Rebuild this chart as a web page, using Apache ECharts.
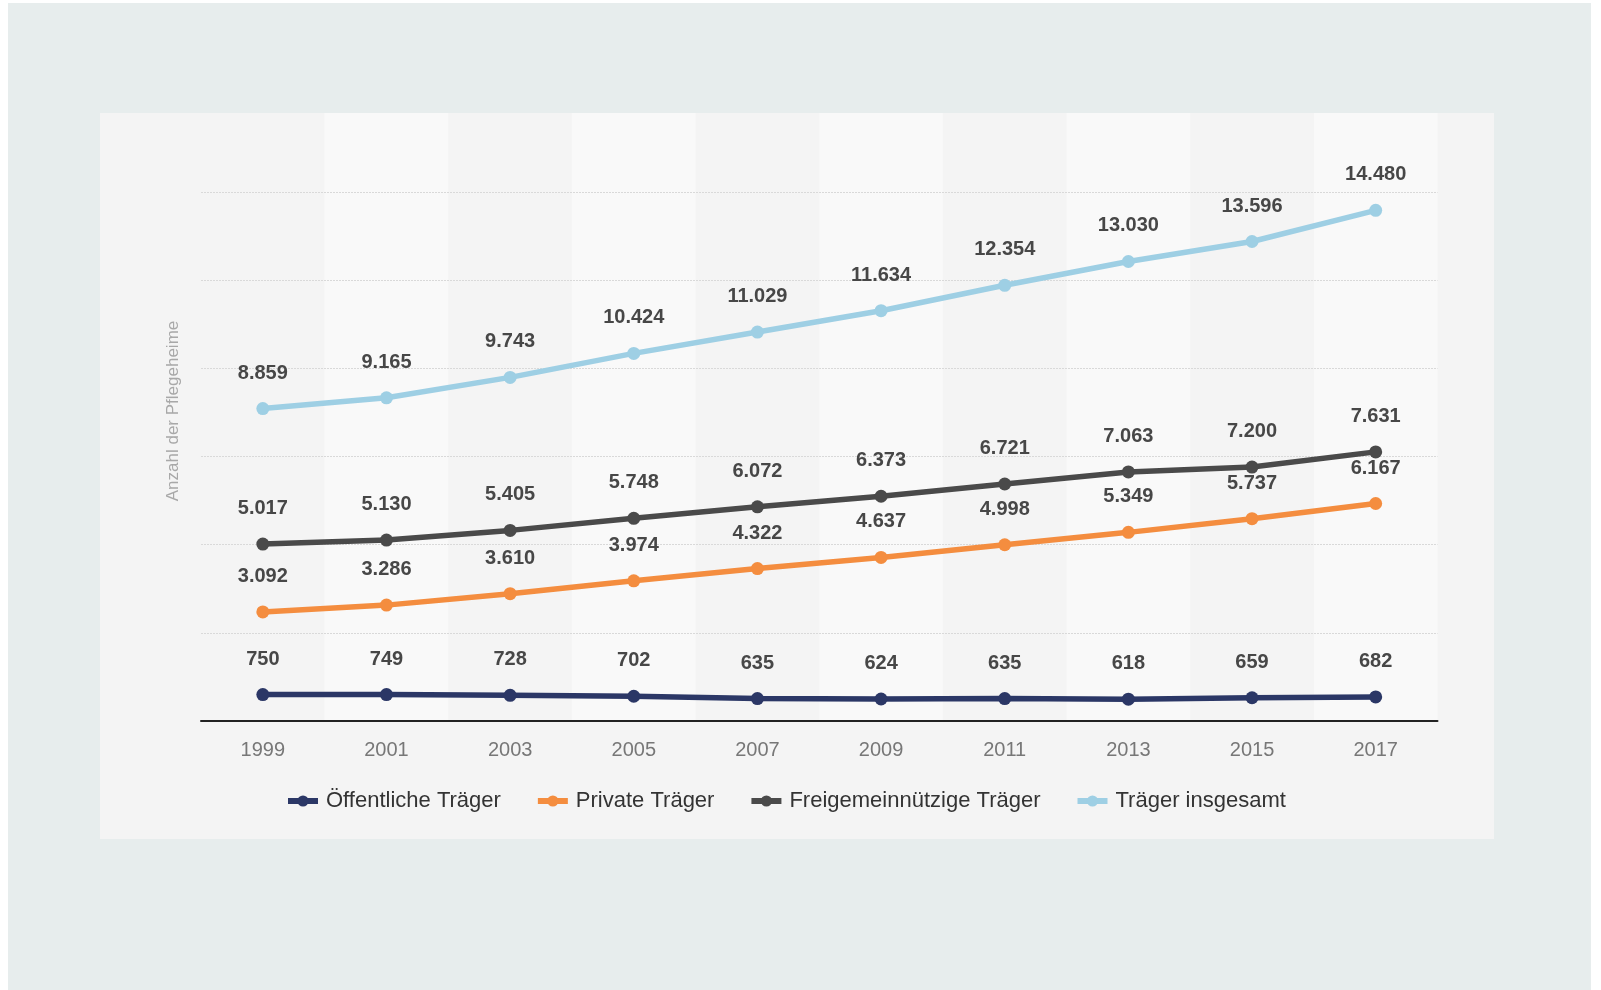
<!DOCTYPE html>
<html>
<head>
<meta charset="utf-8">
<script src="https://cdn.jsdelivr.net/npm/echarts@6/dist/echarts.min.js"></script>
<style>
  html, body { margin: 0; padding: 0; background: #ffffff; }
  #outer { position: absolute; left: 8px; top: 3px; width: 1583px; height: 987px; background: #e7eded; }
  #panel { position: absolute; left: 100px; top: 113px; width: 1394px; height: 726px; background: #f4f4f4; }
  #chart { position: absolute; left: 0; top: 0; width: 1601px; height: 990px; }
</style>
</head>
<body>
<div id="outer"></div>
<div id="panel"></div>
<div id="chart"></div>
<script>
const years = ['1999', '2001', '2003', '2005', '2007', '2009', '2011', '2013', '2015', '2017'];
const oeffentlich = [750, 749, 728, 702, 635, 624, 635, 618, 659, 682];
const privat = [3092, 3286, 3610, 3974, 4322, 4637, 4998, 5349, 5737, 6167];
const freigemein = [5017, 5130, 5405, 5748, 6072, 6373, 6721, 7063, 7200, 7631];
const insgesamt = [8859, 9165, 9743, 10424, 11029, 11634, 12354, 13030, 13596, 14480];
const seriesNames = ['Öffentliche Träger', 'Private Träger', 'Freigemeinnützige Träger', 'Träger insgesamt'];
const yAxisTitle = 'Anzahl der Pflegeheime';

const FONT = '"Liberation Sans", Arial, Helvetica, sans-serif';
function fmt(v) { return String(v).replace(/\B(?=(\d{3})+(?!\d))/g, '.'); }

function lineSeries(name, data, color) {
  return {
    name: name, type: 'line', data: data, xAxisIndex: 1, yAxisIndex: 1,
    symbol: 'circle', symbolSize: 13,
    lineStyle: { width: 5.5, color: color },
    itemStyle: { color: color },
    label: {
      show: true, position: 'top', distance: 19,
      fontFamily: FONT, fontSize: 20, fontWeight: 'bold', color: '#474747',
      formatter: p => fmt(p.value)
    },
    emphasis: { disabled: true },
    animation: false
  };
}

const chart = echarts.init(document.getElementById('chart'));
chart.setOption({
  backgroundColor: 'transparent',
  animation: false,
  textStyle: { fontFamily: FONT },
  grid: [
    { left: 201, right: 163.5, top: 113, bottom: 269 },
    { left: 201, right: 163.5, top: 192, bottom: 269 }
  ],
  xAxis: [
    {
      type: 'category', data: years, gridIndex: 0, boundaryGap: true, z: -5,
      axisLine: { show: false }, axisTick: { show: false }, axisLabel: { show: false },
      splitArea: { show: true, areaStyle: { color: ['#f4f4f4', '#f9f9f9'] } }
    },
    {
      type: 'category', data: years, gridIndex: 1, boundaryGap: true, z: 3,
      axisLine: { show: true, lineStyle: { color: '#222', width: 2 } },
      axisTick: { show: false },
      axisLabel: { fontFamily: FONT, fontSize: 20, color: '#777', margin: 19 },
      splitLine: { show: false }
    }
  ],
  yAxis: [
    {
      type: 'value', gridIndex: 0, show: false, min: 0, max: 1,
      splitLine: { show: false }
    },
    {
      type: 'value', gridIndex: 1, min: 0, max: 15000, interval: 2500, z: 1,
      axisLine: { show: false }, axisTick: { show: false }, axisLabel: { show: false },
      splitLine: { show: true, lineStyle: { color: '#d9d9d9', width: 1, type: [2, 1] } }
    }
  ],
  legend: {
    left: 280, top: 785,
    itemWidth: 30, itemHeight: 14, itemGap: 34,
    lineStyle: { width: 6 },
    textStyle: { fontFamily: FONT, fontSize: 22, color: '#333', padding: [0, 0, 0, 3] },
    data: seriesNames
  },
  graphic: [
    {
      type: 'text', x: 173, y: 411, rotation: Math.PI / 2,
      style: { text: yAxisTitle, fontFamily: FONT, fontSize: 17, fill: '#a8a8a8', textAlign: 'center', textVerticalAlign: 'middle' }
    }
  ],
  series: [
    lineSeries(seriesNames[0], oeffentlich, '#2b3766'),
    lineSeries(seriesNames[1], privat, '#f48d3f'),
    lineSeries(seriesNames[2], freigemein, '#4a4a4a'),
    lineSeries(seriesNames[3], insgesamt, '#9ecfe4')
  ]
});
</script>
</body>
</html>
